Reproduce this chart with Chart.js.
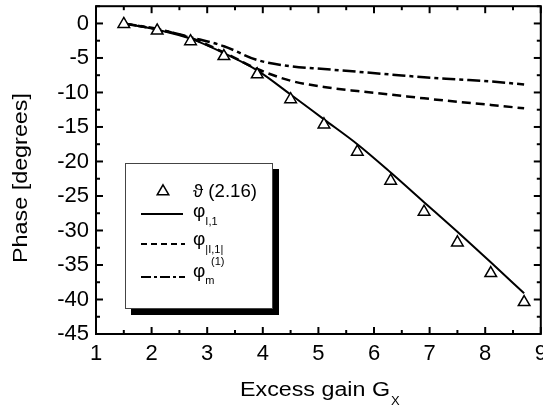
<!DOCTYPE html>
<html>
<head>
<meta charset="utf-8">
<script src="https://cdn.jsdelivr.net/npm/chart.js@4.4.0/dist/chart.umd.min.js"></script>
<style>
    html, body { margin: 0; padding: 0; background: #fff; overflow: hidden; }
    #wrap { width: 543px; height: 410px; overflow: hidden; }
    #phase_chart_id { display: block; margin-top: -2px; }
</style>
</head>
<body>
<div id="wrap"><canvas id="phase_chart_id" width="549" height="412"></canvas></div>
<script>
// values
const gainX = [1.5, 2.1, 2.7, 3.3, 3.9, 4.5, 5.1, 5.7, 6.3, 6.9, 7.5, 8.1, 8.7];
const theta216 = [-0.1, -1.05, -2.6, -4.75, -7.4, -11.0, -14.65, -18.6, -22.8, -27.3, -31.75, -36.2, -40.4];
const phiI1 = [0, -0.9, -2.2, -4.3, -6.8, -10.3, -13.9, -17.5, -21.6, -25.9, -30.2, -34.6, -39.1];
const phiAbsI1 = [0, -0.85, -2.1, -4.2, -6.6, -8.3, -9.2, -9.8, -10.3, -10.85, -11.35, -11.8, -12.3];
const phiM1 = [0, -0.8, -2.0, -3.3, -5.3, -6.2, -6.6, -7.0, -7.4, -7.8, -8.1, -8.4, -8.85];

const xTitle = "Excess gain G";
const xTitleSub = "X";
const yTitle = "Phase [degrees]";

const FONT = '"Liberation Sans", Arial, sans-serif';
const DY = 2; // canvas is shifted up by this much

function toPoints(ys) {
    return gainX.map((x, i) => ({ x: x, y: ys[i] }));
}

function line(ctx, x1, y1, x2, y2) {
    ctx.beginPath();
    ctx.moveTo(x1, y1);
    ctx.lineTo(x2, y2);
    ctx.stroke();
}

function triangle(ctx, x, y, r) {
    ctx.beginPath();
    for (let k = 0; k < 3; k++) {
        let rad = k * 2 * Math.PI / 3;
        let px = x + Math.sin(rad) * r, py = y - Math.cos(rad) * r;
        if (k == 0) ctx.moveTo(px, py); else ctx.lineTo(px, py);
    }
    ctx.closePath();
    ctx.fillStyle = '#fff';
    ctx.fill();
    ctx.stroke();
}

// text squeezed / stretched along its own direction to a given length
function fitText(ctx, text, x, y, width) {
    let w = ctx.measureText(text).width;
    ctx.save();
    ctx.translate(x, y);
    ctx.scale(width / w, 1);
    ctx.fillText(text, 0, 0);
    ctx.restore();
}

// box with inward ticks on all four sides
const framePlugin = {
    id: 'frame',
    afterDraw(chart) {
        const { ctx, chartArea: a, scales } = chart;
        const xs = scales.x, ys = scales.y;
        ctx.save();
        ctx.strokeStyle = '#000';
        ctx.lineWidth = 2;
        ctx.strokeRect(a.left, a.top, a.right - a.left, a.bottom - a.top);
        for (let v = xs.min; v <= xs.max + 0.001; v += 0.5) {
            let px = xs.getPixelForValue(v);
            let len = Number.isInteger(v) ? 7 : 4;
            line(ctx, px, a.bottom, px, a.bottom - len);
            line(ctx, px, a.top, px, a.top + len);
        }
        for (let v = ys.min; v <= ys.max + 0.001; v += 2.5) {
            let py = ys.getPixelForValue(v);
            let len = (v % 5 == 0) ? 7 : 4;
            line(ctx, a.left, py, a.left + len, py);
            line(ctx, a.right, py, a.right - len, py);
        }
        ctx.restore();
    }
};

// axis titles and the framed legend
const annotPlugin = {
    id: 'annot',
    afterDraw(chart) {
        const ctx = chart.ctx;
        ctx.save();
        ctx.translate(0, DY);
        ctx.fillStyle = '#000';
        ctx.textBaseline = 'alphabetic';
        ctx.textAlign = 'left';

        // x title with subscript
        ctx.font = '20px ' + FONT;
        fitText(ctx, xTitle, 240, 396, 150);
        ctx.font = '13px ' + FONT;
        ctx.fillText(xTitleSub, 391, 405);

        // y title
        ctx.save();
        ctx.translate(27, 263);
        ctx.rotate(-Math.PI / 2);
        ctx.font = '20px ' + FONT;
        fitText(ctx, yTitle, 0, 0, 170);
        ctx.restore();

        // legend box + shadow
        ctx.fillStyle = '#000';
        ctx.fillRect(131, 169, 148, 146);
        ctx.fillStyle = '#fff';
        ctx.fillRect(125, 163, 148, 146);
        ctx.strokeStyle = '#444';
        ctx.lineWidth = 1;
        ctx.strokeRect(125.5, 163.5, 147, 145);

        ctx.strokeStyle = '#000';
        ctx.lineWidth = 1.5;
        triangle(ctx, 163, 191.5, 6.7);

        ctx.fillStyle = '#000';
        ctx.font = '19px ' + FONT;
        fitText(ctx, '\u03D1 (2.16)', 193, 197, 64);

        ctx.lineWidth = 2;
        ctx.setLineDash([]);
        line(ctx, 141, 214, 183, 214);
        ctx.setLineDash([6, 4]);
        line(ctx, 141, 244, 185, 244);
        ctx.setLineDash([10, 3, 3, 3]);
        line(ctx, 141, 277, 185, 277);
        ctx.setLineDash([]);

        ctx.font = '19px ' + FONT;
        let pw = ctx.measureText('\u03C6').width;
        ctx.fillText('\u03C6', 193, 217);
        ctx.fillText('\u03C6', 193, 245);
        ctx.fillText('\u03C6', 193, 277);
        ctx.font = '11px ' + FONT;
        ctx.fillText('I,1', 193 + pw, 225);
        ctx.fillText('|I,1|', 193 + pw, 253);
        ctx.fillText('m', 193 + pw, 284);
        ctx.fillText('(1)', 211, 265);
        ctx.restore();
    }
};

new Chart(
    document.getElementById('phase_chart_id'),
    {
        type: 'scatter',
        data: {
            datasets: [
                {
                    label: '\u03D1 (2.16)',
                    data: toPoints(theta216),
                    showLine: false,
                    pointStyle: 'triangle',
                    pointRadius: 6.7,
                    pointBorderWidth: 1.5,
                    pointBorderColor: '#000',
                    pointBackgroundColor: '#fff'
                },
                {
                    label: 'phi I,1',
                    data: toPoints(phiI1),
                    showLine: true,
                    borderColor: '#000',
                    borderWidth: 2,
                    pointRadius: 0,
                    cubicInterpolationMode: 'monotone'
                },
                {
                    label: 'phi |I,1|',
                    data: toPoints(phiAbsI1),
                    showLine: true,
                    borderColor: '#000',
                    borderWidth: 2.5,
                    borderDash: [9, 5],
                    pointRadius: 0,
                    cubicInterpolationMode: 'monotone'
                },
                {
                    label: 'phi m(1)',
                    data: toPoints(phiM1),
                    showLine: true,
                    borderColor: '#000',
                    borderWidth: 2.5,
                    borderDash: [13, 4, 4, 4],
                    pointRadius: 0,
                    cubicInterpolationMode: 'monotone'
                }
            ]
        },
        options: {
            responsive: false,
            devicePixelRatio: 1,
            animation: false,
            layout: { padding: { left: 0, top: 3, right: 2, bottom: 0 } },
            plugins: {
                legend: { display: false },
                tooltip: { enabled: false }
            },
            scales: {
                x: {
                    type: 'linear',
                    min: 1,
                    max: 9,
                    grid: { display: false, drawTicks: false },
                    border: { display: false },
                    ticks: { stepSize: 1, padding: 7, color: '#000', font: { family: FONT, size: 22 }, maxRotation: 0 },
                    afterFit(scale) { scale.height = 76; scale.paddingLeft = 0; scale.paddingRight = 0; }
                },
                y: {
                    type: 'linear',
                    min: -45,
                    max: 2.5,
                    grid: { display: false, drawTicks: false },
                    border: { display: false },
                    ticks: { stepSize: 5, includeBounds: false, padding: 7, color: '#000', font: { family: FONT, size: 22 } },
                    afterFit(scale) { scale.width = 96; scale.paddingTop = 0; scale.paddingBottom = 0; }
                }
            }
        },
        plugins: [framePlugin, annotPlugin]
    }
);
</script>
</body>
</html>
